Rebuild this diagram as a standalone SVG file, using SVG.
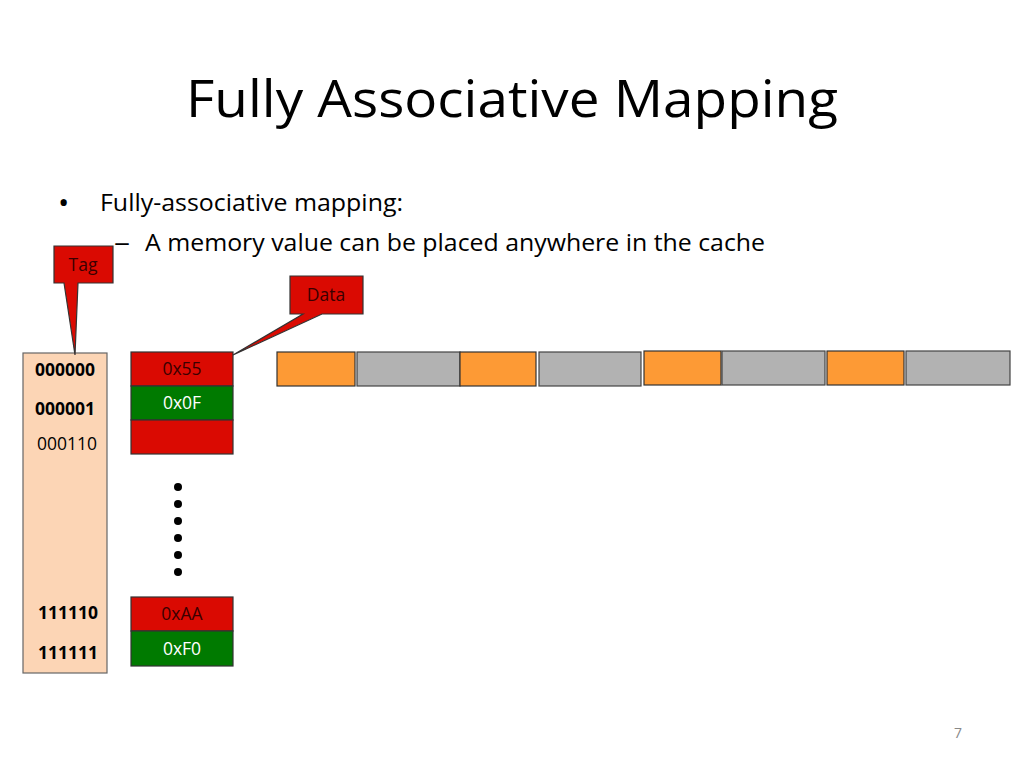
<svg xmlns="http://www.w3.org/2000/svg" width="1024" height="768" viewBox="0 0 1024 768">
<style>
  .t{font-family:"Open Sans","Liberation Sans",sans-serif;fill:#000}
  .red{fill:#DA0A02;stroke:#333;stroke-width:1.2}
  .grn{fill:#007A00;stroke:#333;stroke-width:1.2}
  .org{fill:#FD9A35;stroke:#333;stroke-width:1.2}
  .gry{fill:#B2B2B2;stroke:#444;stroke-width:1.2}
  .tag{font-family:"Open Sans","Liberation Sans",sans-serif;font-size:17.5px;fill:#000;text-anchor:middle}
  .val{font-family:"Open Sans","Liberation Sans",sans-serif;font-size:17.5px;text-anchor:middle}
</style>
<rect width="1024" height="768" fill="#fff"/>
<text class="t" x="512" y="117" font-size="52" text-anchor="middle" textLength="652" lengthAdjust="spacingAndGlyphs">Fully Associative Mapping</text>
<g id="bullets">
  <text class="t" x="58" y="213" font-size="30">•</text>
  <text class="t" x="100" y="211" font-size="23" textLength="303" lengthAdjust="spacingAndGlyphs">Fully-associative mapping:</text>
  <text class="t" x="114" y="251" font-size="23" textLength="16" lengthAdjust="spacingAndGlyphs">–</text>
  <text class="t" x="145" y="251" font-size="23" textLength="620" lengthAdjust="spacingAndGlyphs">A memory value can be placed anywhere in the cache</text>
</g>
<g id="tag-column">
  <rect x="23" y="353" width="84" height="320" fill="#FCD5B5" stroke="#666" stroke-width="1.2"/>
  <text class="tag" x="65" y="376" font-weight="bold" textLength="60" lengthAdjust="spacingAndGlyphs">000000</text>
  <text class="tag" x="65" y="415" font-weight="bold" textLength="60" lengthAdjust="spacingAndGlyphs">000001</text>
  <text class="tag" x="67" y="450" textLength="60" lengthAdjust="spacingAndGlyphs">000110</text>
  <text class="tag" x="68" y="619" font-weight="bold" textLength="60" lengthAdjust="spacingAndGlyphs">111110</text>
  <text class="tag" x="68" y="659" font-weight="bold" textLength="60" lengthAdjust="spacingAndGlyphs">111111</text>
</g>
<g id="data-column">
  <rect class="red" x="131" y="352" width="102" height="34"/>
  <text class="val" x="182" y="375" fill="#3a0000">0x55</text>
  <rect class="grn" x="131" y="386" width="102" height="34"/>
  <text class="val" x="182" y="409" fill="#fff">0x0F</text>
  <rect class="red" x="131" y="420" width="102" height="34"/>
  <rect class="red" x="131" y="597" width="102" height="34"/>
  <text class="val" x="182" y="620" fill="#3a0000">0xAA</text>
  <rect class="grn" x="131" y="631" width="102" height="35"/>
  <text class="val" x="182" y="655" fill="#fff">0xF0</text>
  <g fill="#000">
    <circle cx="178" cy="487" r="4"/>
    <circle cx="178" cy="504" r="4"/>
    <circle cx="178" cy="521" r="4"/>
    <circle cx="178" cy="538" r="4"/>
    <circle cx="178" cy="555" r="4"/>
    <circle cx="178" cy="572" r="4"/>
  </g>
</g>
<g id="memory-strip">
  <rect class="org" x="277" y="352" width="78" height="34"/>
  <rect class="gry" x="357" y="352" width="103" height="34"/>
  <rect class="org" x="460" y="352" width="76" height="34"/>
  <rect class="gry" x="539" y="352" width="102" height="34"/>
  <rect class="org" x="644" y="351" width="77" height="34"/>
  <rect class="gry" x="722" y="351" width="103" height="34"/>
  <rect class="org" x="827" y="351" width="77" height="34"/>
  <rect class="gry" x="906" y="351" width="104" height="34"/>
</g>
<g id="tag-callout">
  <path d="M54,246 H113 V283 H78 L75,355 L64,283 H54 Z" fill="#DA0A02" stroke="#333" stroke-width="1.2"/>
  <text class="val" x="83" y="271" fill="#3a0000">Tag</text>
</g>
<g id="data-callout">
  <path d="M290,276 H363 V314 H322 L233,355 L303,314 H290 Z" fill="#DA0A02" stroke="#333" stroke-width="1.2"/>
  <text class="val" x="326" y="301" fill="#3a0000">Data</text>
</g>
<text x="958" y="738" font-family="Open Sans, Liberation Sans, sans-serif" font-size="14" fill="#888" text-anchor="middle">7</text>
</svg>
